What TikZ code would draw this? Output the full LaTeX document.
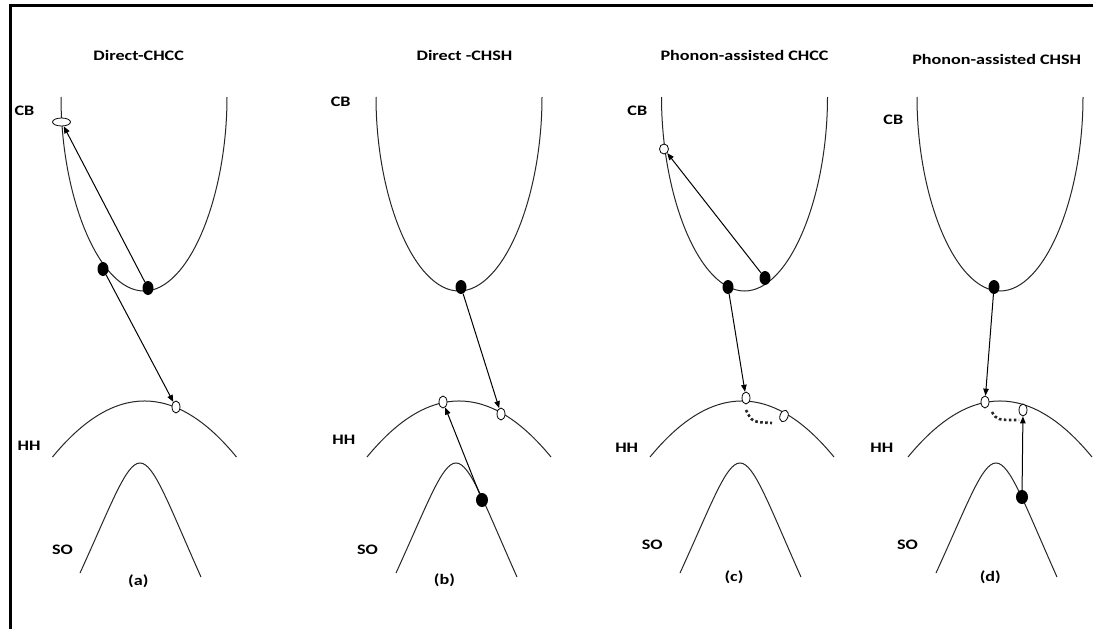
\documentclass[tikz,border=0pt]{standalone}
\usepackage{fontspec}
\setmainfont{Carlito}[FakeStretch=1.25]
\usetikzlibrary{shapes.geometric,arrows.meta}

\tikzset{
  band/.style={line width=1pt, black!85},
  elec/.style={ellipse, fill=black, minimum width=11pt, minimum height=14pt, inner sep=0pt},
  hole/.style={ellipse, draw, fill=white, line width=0.8pt, minimum width=8pt, minimum height=12pt, inner sep=0pt},
  trans/.style={line width=1pt, -{Triangle[length=7pt,width=5.5pt]}},
  phonon/.style={line width=2.6pt, dash pattern=on 2.6pt off 2.4pt, black!85},
  lbl/.style={font=\bfseries\fontsize{14.5}{16}\selectfont, anchor=base, inner sep=0pt},
}

\begin{document}
\begin{tikzpicture}[x=1pt, y=-1pt]
\clip (0,0) rectangle (1093,629);
\fill[white] (0,0) rectangle (1093,629);

% frame
\draw[line width=3pt] (10,700) -- (10,5.7) -- (1200,5.7);

% conduction bands
\foreach \c in {144,459,744.5,1000}{
  \draw[band] ({\c-83},97) .. controls ({\c-83},197) and ({\c-45},291) .. (\c,291)
              .. controls ({\c+45},291) and ({\c+83},197) .. ({\c+83},97);
}
% heavy-hole bands (parabolic arcs)
\foreach \c in {144.5,459,742,1000}{
  \draw[band] ({\c-92},457) .. controls ({\c-30.7},382.3) and ({\c+30.7},382.3) .. ({\c+92},457);
}
% split-off bands
\foreach \s in {140,456,740,996}{
  \draw[band] ({\s-60},573) .. controls ({\s-28},503) and ({\s-14},463) .. (\s,463)
              .. controls ({\s+14},463) and ({\s+28},503) .. ({\s+61},577);
}

% titles
\node[lbl] (ta) at (138.7,60.5) {Direct-CHCC};
\node[lbl] (tb) at (464.5,60.5) {Direct -CHSH};
\node[lbl] (tc) at (744.5,60) {Phonon-assisted CHCC};
\node[lbl] (td) at (996.7,64.3) {Phonon-assisted CHSH};

% band labels
\node[lbl] (cba) at (24.5,115) {CB};
\node[lbl] (cbb) at (340.7,106) {CB};
\node[lbl] (cbc) at (637.3,115.3) {CB};
\node[lbl] (cbd) at (893.3,124.3) {CB};
\node[lbl] (hha) at (29,450) {HH};
\node[lbl] (hhb) at (343.8,444) {HH};
\node[lbl] (hhc) at (626.7,452.3) {HH};
\node[lbl] (hhd) at (881.8,452.3) {HH};
\node[lbl] (soa) at (62.5,554.3) {SO};
\node[lbl] (sob) at (367.5,554) {SO};
\node[lbl] (soc) at (652.2,549) {SO};
\node[lbl] (sod) at (907.5,549) {SO};

% panel tags
\node[lbl] (pa) at (138.3,585) {(a)};
\node[lbl] (pb) at (444.5,584) {(b)};
\node[lbl] (pc) at (734,581.7) {(c)};
\node[lbl] (pd) at (990.3,581.7) {(d)};

% phonon paths
\draw[phonon] (746,410) .. controls (752,422) .. (772,423);
\draw[phonon] (992,412) .. controls (997,420) .. (1019,420);

% carriers, panel (a)
\node[elec] (ea1) at (103,269) {};
\node[elec] (ea2) at (148,288) {};
\node[hole, minimum width=18pt, minimum height=8pt] (hat) at (61.5,122) {};
\node[hole] (ha) at (176,407) {};
% panel (b)
\node[elec] (eb1) at (461,287) {};
\node[elec, minimum width=12pt] (eb2) at (482,500) {};
\node[hole] (hb1) at (443,402) {};
\node[hole] (hb2) at (501,414) {};
% panel (c)
\node[hole, minimum width=9pt, minimum height=10pt] (hct) at (664,149) {};
\node[elec] (ec1) at (728,287) {};
\node[elec] (ec2) at (765,278) {};
\node[hole] (hc1) at (746,398) {};
\node[hole, rotate=-20] (hc2) at (784,416) {};
% panel (d)
\node[elec] (ed1) at (994,287) {};
\node[elec, minimum width=12pt] (ed2) at (1022,497) {};
\node[hole] (hd1) at (985,402) {};
\node[hole] (hd2) at (1023,410) {};

% transitions
\draw[trans] (ea2) -- (hat);
\draw[trans] (ea1) -- (ha);
\draw[trans] (eb1) -- (hb2);
\draw[trans] (eb2) -- (hb1);
\draw[trans] (ec2) -- (hct);
\draw[trans] (ec1) -- (hc1);
\draw[trans] (ed1) -- (hd1);
\draw[trans] (ed2) -- (hd2);
\end{tikzpicture}
\end{document}
